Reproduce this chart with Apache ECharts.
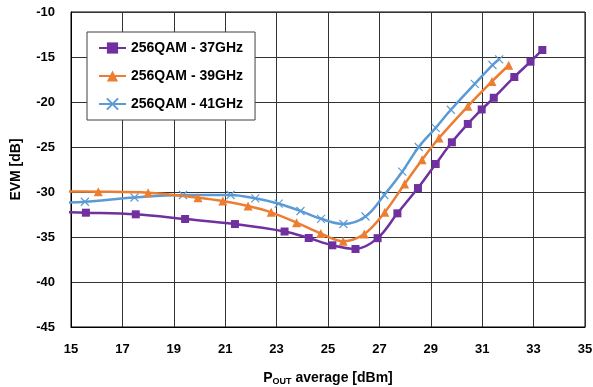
<!DOCTYPE html>
<html>
<head>
<meta charset="utf-8">
<script src="https://cdn.jsdelivr.net/npm/echarts@6/dist/echarts.min.js"></script>
<style>
  html, body { margin: 0; padding: 0; background: #fff; }
  #chart { width: 593px; height: 387px; }
</style>
</head>
<body>
<div id="chart"></div>
<script>
// EVM vs. average output power for three carrier frequencies (256QAM)
const seriesNames = ['256QAM - 37GHz', '256QAM - 39GHz', '256QAM - 41GHz'];

const pout37 = [14.6, 15.58, 17.52, 19.44, 21.38, 23.31, 24.25, 25.17, 26.07, 26.93, 27.70, 28.50, 29.19, 29.82, 30.44, 30.98, 31.45, 32.25, 32.88, 33.34];
const evm37  = [-32.25, -32.30, -32.48, -33.00, -33.56, -34.39, -35.11, -35.92, -36.33, -35.13, -32.37, -29.56, -26.89, -24.48, -22.44, -20.83, -19.53, -17.22, -15.52, -14.22];

const pout39 = [14.6, 16.06, 18.00, 19.94, 20.91, 21.89, 22.79, 23.78, 24.72, 25.59, 26.41, 27.21, 27.98, 28.66, 29.32, 30.44, 31.38, 32.03];
const evm39  = [-29.95, -29.97, -30.09, -30.63, -31.00, -31.56, -32.26, -33.41, -34.61, -35.47, -34.67, -32.24, -29.11, -26.41, -24.00, -20.48, -17.72, -15.92];

const pout41 = [14.6, 15.54, 17.47, 19.36, 21.21, 22.17, 23.08, 23.93, 24.73, 25.60, 26.46, 27.19, 27.89, 28.53, 29.19, 29.78, 30.71, 31.40, 31.66];
const evm41  = [-31.20, -31.08, -30.61, -30.33, -30.33, -30.70, -31.30, -32.11, -32.98, -33.56, -32.72, -30.33, -27.74, -25.00, -22.87, -20.86, -17.98, -15.89, -15.26];

const xTicks = { min: 15, max: 35, step: 2 };
const yTicks = { min: -45, max: -10, step: 5 };

const colors = ['#7030A0', '#ED7D31', '#5B9BD5'];
const symbols = ['rect', 'triangle', 'path://M0,0L10,10M10,0L0,10'];
const symbolSizes = [8, 9, 8];

function pairs(xs, ys) { return xs.map((x, i) => [x, ys[i]]); }
const datasets = [pairs(pout37, evm37), pairs(pout39, evm39), pairs(pout41, evm41)];

const FONT = '"Liberation Sans", Arial, sans-serif';

const chart = echarts.init(document.getElementById('chart'), null, { renderer: 'canvas' });

chart.setOption({
  animation: false,
  backgroundColor: '#fff',
  grid: {
    left: 71, right: 8, top: 12, bottom: 60,
    outerBoundsMode: 'none',
    containLabel: false,
    show: true, borderColor: '#000', borderWidth: 1, backgroundColor: 'transparent'
  },
  legend: {
    orient: 'vertical',
    left: 87, top: 32,
    padding: [9, 12, 9, 11],
    itemGap: 14,
    itemWidth: 27,
    itemHeight: 14,
    backgroundColor: '#fff',
    borderColor: '#404040',
    borderWidth: 1,
    textStyle: { fontFamily: FONT, fontSize: 14, fontWeight: 'bold', color: '#000', lineHeight: 14 },
    data: seriesNames
  },
  xAxis: {
    type: 'value',
    min: xTicks.min, max: xTicks.max, interval: xTicks.step,
    axisLine: { show: true, lineStyle: { color: '#000', width: 1 } },
    axisTick: { show: false },
    splitLine: { show: true, lineStyle: { color: '#333', width: 1 } },
    axisLabel: { fontFamily: FONT, fontSize: 13, fontWeight: 'bold', color: '#000', margin: 16 },
    name: '{p|P}{s|OUT}{p| average [dBm]}',
    nameLocation: 'middle',
    nameGap: 43,
    nameTextStyle: {
      rich: {
        p: { fontFamily: FONT, fontSize: 14, fontWeight: 'bold', color: '#000' },
        s: { fontFamily: FONT, fontSize: 9, fontWeight: 'bold', color: '#000', verticalAlign: 'bottom', padding: [7, 0, 0, 0] }
      }
    }
  },
  yAxis: {
    type: 'value',
    min: yTicks.min, max: yTicks.max, interval: yTicks.step,
    axisLine: { show: true, lineStyle: { color: '#000', width: 1 } },
    axisTick: { show: false },
    splitLine: { show: true, lineStyle: { color: '#333', width: 1 } },
    axisLabel: { fontFamily: FONT, fontSize: 13, fontWeight: 'bold', color: '#000', margin: 16 },
    name: 'EVM [dB]',
    nameLocation: 'middle',
    nameGap: 48,
    nameTextStyle: { fontFamily: FONT, fontSize: 14, fontWeight: 'bold', color: '#000' }
  },
  series: seriesNames.map((name, i) => ({
    name,
    type: 'line',
    data: datasets[i],
    smooth: 0.35,
    clip: true,
    symbol: symbols[i],
    symbolSize: symbolSizes[i],
    showAllSymbol: true,
    lineStyle: { color: colors[i], width: 2.5 },
    itemStyle: i === 2
      ? { color: colors[i], borderColor: colors[i], borderWidth: 1.2 }
      : { color: colors[i], borderWidth: 0 },
    emphasis: { disabled: true },
    z: 3 - i
  }))
});
</script>
</body>
</html>
